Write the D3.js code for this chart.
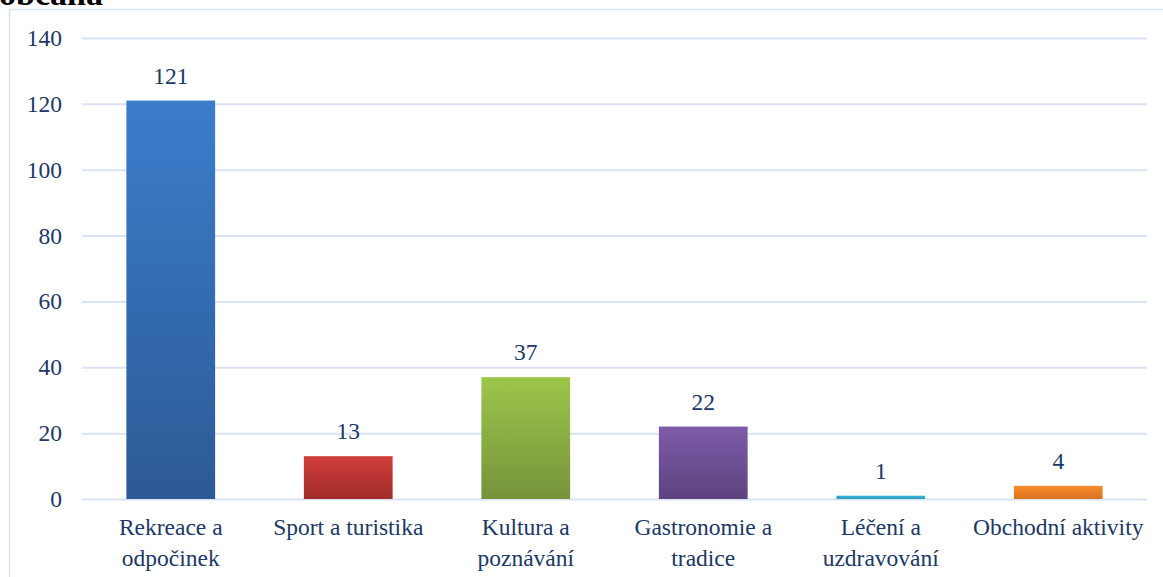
<!DOCTYPE html>
<html>
<head>
<meta charset="utf-8">
<script src="https://cdn.jsdelivr.net/npm/d3@7"></script>
<style>
  body { margin: 0; background: #fff; }
  svg { display: block; font-family: "Liberation Serif", "Times New Roman", serif; }
</style>
</head>
<body>
<svg id="chart" width="1163" height="577"></svg>
<script>
// data
var categories = [
  ['Rekreace a', 'odpočinek'],
  ['Sport a turistika'],
  ['Kultura a', 'poznávání'],
  ['Gastronomie a', 'tradice'],
  ['Léčení a', 'uzdravování'],
  ['Obchodní aktivity']
];
var values = [121, 13, 37, 22, 1, 4];
var yTicks = [0, 20, 40, 60, 80, 100, 120, 140];
// top/bottom gradient colours per bar
var barColors = [
  ['#3b7dcc', '#2c5a95'],
  ['#d03d3a', '#a12d2b'],
  ['#9dc64b', '#76933b'],
  ['#7e5ba8', '#5c437f'],
  ['#3ab4d6', '#2a9bbb'],
  ['#f88d2c', '#d8731e']
];

var svg = d3.select('#chart');
var textColor = '#203864';
var fontSize = 23.5;

var margin = { left: 82, right: 16, top: 38, bottom: 78 };
var width = 1163, height = 577;

var x = d3.scaleBand()
  .domain(d3.range(values.length))
  .range([margin.left, width - margin.right])
  .paddingInner(0.5)
  .paddingOuter(0.25);

var y = d3.scaleLinear()
  .domain([0, 140])
  .range([height - margin.bottom, margin.top]);

// cropped title at the top
svg.append('text')
  .attr('x', -1)
  .attr('y', 5)
  .attr('font-size', 34)
  .attr('font-weight', 'bold')
  .attr('fill', '#000')
  .text('obcaná');

// chart frame
svg.append('rect')
  .attr('x', 9.5)
  .attr('y', 9.5)
  .attr('width', width)
  .attr('height', height)
  .attr('fill', 'none')
  .attr('stroke', '#d6e2f3')
  .attr('stroke-width', 1.5);

// gradients
var defs = svg.append('defs');
barColors.forEach(function (c, i) {
  var g = defs.append('linearGradient')
    .attr('id', 'grad' + i)
    .attr('x1', 0).attr('y1', 0).attr('x2', 0).attr('y2', 1);
  g.append('stop').attr('offset', '0%').attr('stop-color', c[0]);
  g.append('stop').attr('offset', '100%').attr('stop-color', c[1]);
});

// gridlines + y labels
var yAxis = d3.axisLeft(y)
  .tickValues(yTicks)
  .tickSize(-(width - margin.right - margin.left))
  .tickPadding(20);

var ya = svg.append('g')
  .attr('transform', 'translate(' + margin.left + ',0)')
  .call(yAxis);
ya.select('.domain').remove();
ya.selectAll('.tick line')
  .attr('stroke', '#d9e3f3')
  .attr('stroke-width', 2);
ya.selectAll('.tick text')
  .attr('fill', textColor)
  .attr('font-size', fontSize)
  .attr('font-family', '"Liberation Serif", serif');

// bars
svg.append('g').selectAll('rect')
  .data(values)
  .enter()
  .append('rect')
  .attr('x', function (d, i) { return x(i); })
  .attr('y', function (d) { return y(d); })
  .attr('width', x.bandwidth())
  .attr('height', function (d) { return Math.max(y(0) - y(d), 0); })
  .attr('fill', function (d, i) { return 'url(#grad' + i + ')'; });

// value labels
svg.append('g').selectAll('text')
  .data(values)
  .enter()
  .append('text')
  .attr('x', function (d, i) { return x(i) + x.bandwidth() / 2; })
  .attr('y', function (d) { return y(d) - 17; })
  .attr('text-anchor', 'middle')
  .attr('font-size', fontSize)
  .attr('fill', textColor)
  .text(function (d) { return d; });

// category labels
var cat = svg.append('g').selectAll('text')
  .data(categories)
  .enter()
  .append('text')
  .attr('text-anchor', 'middle')
  .attr('font-size', fontSize)
  .attr('fill', textColor)
  .attr('transform', function (d, i) {
    return 'translate(' + (x(i) + x.bandwidth() / 2) + ',' + (y(0) + 36) + ')';
  });
cat.selectAll('tspan')
  .data(function (d) { return d; })
  .enter()
  .append('tspan')
  .attr('x', 0)
  .attr('dy', function (d, i) { return i === 0 ? 0 : 31; })
  .text(function (d) { return d; });
</script>
</body>
</html>
